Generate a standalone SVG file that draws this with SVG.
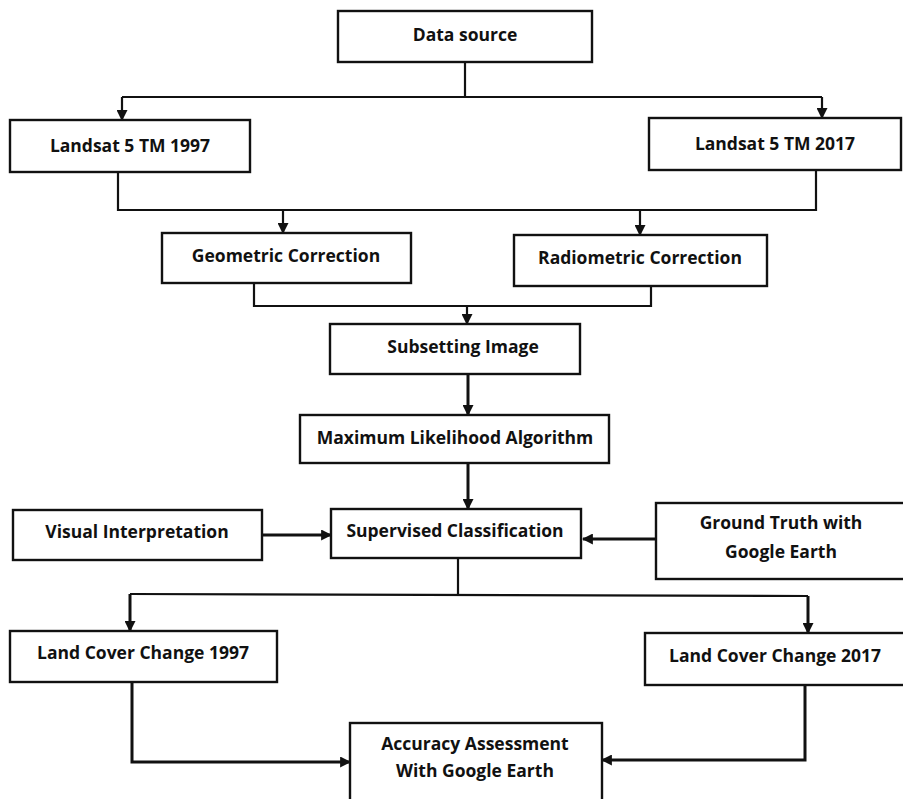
<svg xmlns="http://www.w3.org/2000/svg" width="903" height="799" viewBox="0 0 903 799">
<style>
.box{fill:#fff;stroke:#111;stroke-width:2.4}
.t{font-family:"Open Sans",Lato,sans-serif;font-weight:bold;font-size:17.5px;fill:#111;text-anchor:middle;letter-spacing:0}
.ln{fill:none;stroke:#111;stroke-width:2.2}
.th{fill:none;stroke:#111;stroke-width:3}
</style>
<defs>
<marker id="ah" viewBox="0 0 10 10" refX="9" refY="5" markerWidth="11" markerHeight="11" markerUnits="userSpaceOnUse" orient="auto">
<path d="M0,0 L10,5 L0,10 Z" fill="#111"/>
</marker>
</defs>
<rect width="903" height="799" fill="#fff"/>
<g id="connectors">
<path class="ln" d="M465,62 V97"/>
<path class="ln" d="M122,97 H822"/>
<path class="ln" d="M122,97 V120" marker-end="url(#ah)"/>
<path class="ln" d="M822,97 V118" marker-end="url(#ah)"/>
<path class="ln" d="M118,172 V210 H816 V170"/>
<path class="ln" d="M283,210 V233" marker-end="url(#ah)"/>
<path class="ln" d="M640,210 V235" marker-end="url(#ah)"/>
<path class="ln" d="M254,283 V306 H651 V286"/>
<path class="ln" d="M467,306 V324" marker-end="url(#ah)"/>
<path class="th" d="M468,374 V415" marker-end="url(#ah)"/>
<path class="th" d="M468,463 V509" marker-end="url(#ah)"/>
<path class="th" d="M262,535 H331" marker-end="url(#ah)"/>
<path class="th" d="M656,539 H583" marker-end="url(#ah)"/>
<path class="ln" d="M458,558 V596"/>
<path class="ln" d="M130,594 L808,596"/>
<path class="th" d="M130,594 V631" marker-end="url(#ah)"/>
<path class="th" d="M808,596 V633" marker-end="url(#ah)"/>
<path class="th" d="M132,682 V762 H350" marker-end="url(#ah)"/>
<path class="th" d="M805,685 V760 H602" marker-end="url(#ah)"/>
</g>
<g id="data-source"><rect class="box" x="338" y="11" width="254" height="51"/><text class="t" x="465" y="41">Data source</text></g>
<g id="landsat-1997"><rect class="box" x="10" y="120" width="240" height="52"/><text class="t" x="130" y="152">Landsat 5 TM 1997</text></g>
<g id="landsat-2017"><rect class="box" x="649" y="118" width="252" height="52"/><text class="t" x="775" y="150">Landsat 5 TM 2017</text></g>
<g id="geometric"><rect class="box" x="162" y="233" width="249" height="50"/><text class="t" x="286" y="262">Geometric Correction</text></g>
<g id="radiometric"><rect class="box" x="514" y="235" width="253" height="51"/><text class="t" x="640" y="264">Radiometric Correction</text></g>
<g id="subsetting"><rect class="box" x="330" y="324" width="250" height="50"/><text class="t" x="463" y="353">Subsetting Image</text></g>
<g id="maximum-likelihood"><rect class="box" x="300" y="415" width="309" height="48"/><text class="t" x="455" y="444">Maximum Likelihood Algorithm</text></g>
<g id="visual"><rect class="box" x="13" y="510" width="249" height="50"/><text class="t" x="137" y="538">Visual Interpretation</text></g>
<g id="supervised"><rect class="box" x="331" y="509" width="250" height="49"/><text class="t" x="455" y="537">Supervised Classification</text></g>
<g id="ground-truth"><rect class="box" x="656" y="503" width="250" height="76"/><text class="t" x="781" y="529">Ground Truth with</text><text class="t" x="781" y="558">Google Earth</text></g>
<g id="lcc-1997"><rect class="box" x="10" y="631" width="267" height="51"/><text class="t" x="143" y="659">Land Cover Change 1997</text></g>
<g id="lcc-2017"><rect class="box" x="645" y="633" width="261" height="52"/><text class="t" x="775" y="662">Land Cover Change 2017</text></g>
<g id="accuracy"><rect class="box" x="350" y="723" width="252" height="90"/><text class="t" x="475" y="750">Accuracy Assessment</text><text class="t" x="475" y="777">With Google Earth</text></g>
</svg>
